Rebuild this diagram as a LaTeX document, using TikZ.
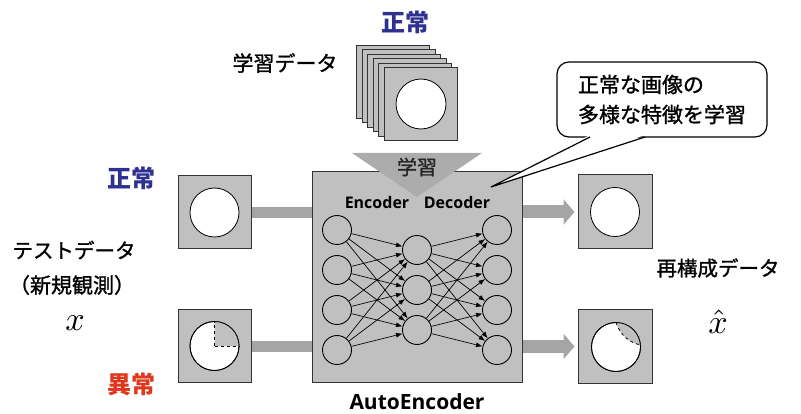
\documentclass[tikz,border=0pt]{standalone}
\usepackage{fontspec}
\usepackage{graphicx}
\setmainfont{Open Sans}
\newfontfamily\jp[FakeBold=1.2]{Noto Sans CJK JP}
\newfontfamily\jpb{Noto Sans CJK JP}
\usetikzlibrary{arrows.meta,calc}
\definecolor{boxgray}{RGB}{192,192,192}
\definecolor{bargray}{RGB}{165,165,165}
\definecolor{tgray}{RGB}{172,172,172}
\definecolor{nblue}{RGB}{46,49,146}
\definecolor{nred}{RGB}{222,56,30}
\begin{document}
\begin{tikzpicture}[x=1pt,y=-1pt,
  img/.style={draw=black!80,fill=boxgray,minimum size=73pt,inner sep=0pt,line width=1pt},
  hole/.style={circle,draw=black,fill=white,minimum size=49pt,inner sep=0pt,line width=0.8pt},
  neuron/.style={circle,draw=black,line width=0.9pt,minimum size=29pt,inner sep=0pt},
  conn/.style={-{Latex[length=6.5pt,width=5pt]},line width=0.7pt},
  inbar/.style={bargray,line width=11pt},
  outbar/.style={bargray,line width=13pt,-{Triangle[length=11pt,width=25pt]},shorten >=3pt},
  jplab/.style={font=\jp\fontsize{21}{25}\selectfont,inner sep=0pt},
  oklab/.style={font=\jpb\bfseries\fontsize{24}{28}\selectfont,text=nblue,inner sep=0pt},
  nglab/.style={font=\jpb\bfseries\fontsize{24}{28}\selectfont,text=nred,inner sep=0pt},
  enlab/.style={font=\bfseries\fontsize{16}{19}\selectfont,inner sep=0pt},
]
\useasboundingbox (0,0) rectangle (801,414);

% top training data
\node[oklab] (topok) at (405,22) {正常};
\node[jplab] (trainlab) at (285,63) {学習データ};
\foreach \i in {0,...,5}
  \node[img] (card\i) at (393+5.6*\i,82+4.4*\i) {};
\node[hole,minimum size=50pt] (cardhole) at (card5) {};

% main box
\node[draw=black!80,fill=boxgray,line width=1pt,minimum width=210pt,minimum height=210pt,inner sep=0pt] (main) at (417,277) {};
\fill[tgray] (352,153) -- (482,153) -- (417,197) -- cycle;
\node[jplab,font=\jp\fontsize{20}{24}\selectfont,text=black!85] (learn) at (417,167) {学習};
\node[enlab] (enc) at (377,203) {Encoder};
\node[enlab] (dec) at (457,203) {Decoder};
\node[font=\bfseries\fontsize{21}{25}\selectfont,inner sep=0pt] (ae) at (417,402) {AutoEncoder};

% neurons
\foreach \j/\y in {1/230,2/270,3/310,4/350} {
  \node[neuron] (l\j) at (337,\y) {};
  \node[neuron] (r\j) at (497,\y) {};
}
\foreach \j/\y in {1/250,2/290,3/330}
  \node[neuron] (m\j) at (417,\y) {};
\foreach \a in {1,...,4}
  \foreach \b in {1,2,3} {
    \draw[conn] (l\a) -- (m\b);
    \draw[conn] (m\b) -- (r\a);
  }

% inputs
\node[img] (in1) at (214.5,212.5) {};
\node[hole] (in1h) at (in1) {};
\node[img] (in2) at (214.5,346) {};
\node[hole] (in2h) at (in2) {};
\fill[boxgray] (in2.center) -- ++(0,-24.5) arc[start angle=-90,end angle=0,radius=24.5] -- cycle;
\draw[dashed,line width=0.8pt] (in2.center) -- ++(0,-24.5);
\draw[dashed,line width=0.8pt] (in2.center) -- ++(24.5,0);
\draw[line width=0.8pt] (in2) circle[radius=24.5];

\draw[inbar] (in1.east) -- (main.west |- in1.east);
\draw[inbar] (in2.east) -- (main.west |- in2.east);

% outputs
\node[img,minimum size=74pt] (out1) at (615,212) {};
\node[hole] (out1h) at (out1) {};
\node[img,minimum size=74pt] (out2) at (615,346.5) {};
\node[hole] (out2h) at (616,347) {};
\fill[boxgray] (616,322.5) arc[start angle=-90,end angle=-5,radius=24.5]
   .. controls (630,343) and (620,335) .. (616,322.5);
\draw[dashed,line width=0.8pt] (616,322.5) .. controls (620,335) and (630,343) .. (640.4,344.9);
\draw[line width=0.8pt] (out2h.center) circle[radius=24.5];

\draw[outbar] (main.east |- out1.west) -- (out1.west);
\draw[outbar] (main.east |- out2.west) -- (out2.west);

% speech bubble
\node[draw=black,fill=white,line width=1.2pt,rounded corners=12pt,minimum width=210pt,minimum height=75pt,
      align=left,font=\jp\fontsize{21}{30}\selectfont] (bubble) at (662,99.5) {正常な画像の\\多様な特徴を学習};
\coordinate (tb1) at (590,137);
\coordinate (tb2) at (645,137);
\coordinate (tip) at (491,187);
\fill[white] (590,135) -- (tip) -- (645,135) -- cycle;
\draw[line width=1.2pt,line join=miter] (tb1) -- (tip) -- (tb2);

% left labels
\node[oklab] (lok) at (131,178) {正常};
\node[jplab,font=\jp\fontsize{20.5}{24}\selectfont] (test) at (74,250) {テストデータ};
\node[jplab] (obs) at (72,285) {（新規観測）};
\node[inner sep=0pt] (xin) at (75,323) {\scalebox{3.4}{$x$}};
\node[nglab] (lng) at (131,384) {異常};

% right labels
\node[jplab,font=\jp\fontsize{20.5}{24}\selectfont] (recon) at (718,268) {再構成データ};
\node[inner sep=0pt] (xout) at (718,322) {\scalebox{3.4}{$\hat{x}$}};
\end{tikzpicture}
\end{document}
